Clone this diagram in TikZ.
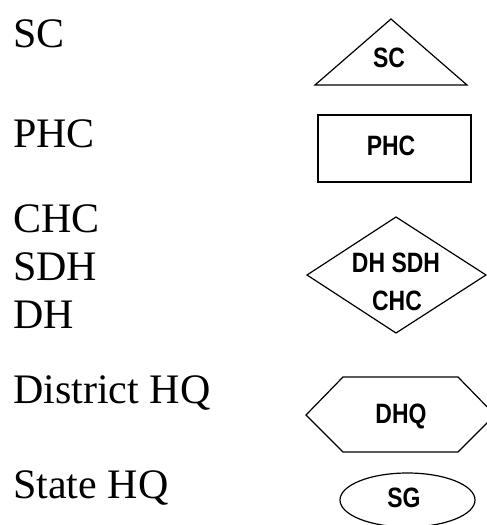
\documentclass[tikz,border=0pt]{standalone}
\usepackage{fontspec}
\setmainfont{Liberation Serif}
\newfontfamily\labfont[FakeStretch=0.82]{Liberation Sans}
\begin{document}
\begin{tikzpicture}[x=1pt,y=-1pt,
  lefttext/.style={anchor=base west,inner sep=0pt,font=\fontsize{42}{48}\selectfont},
  shapetext/.style={anchor=base,inner sep=0pt,font=\labfont\bfseries\fontsize{28}{30}\selectfont},
  outline/.style={draw=black,line width=1.2pt,line join=miter}]
\useasboundingbox (0,0) rectangle (487,525);
\clip (0,0) rectangle (487,525);
% left column
\node[lefttext] (tsc) at (13,47) {SC};
\node[lefttext] (tphc) at (13,147) {PHC};
\node[lefttext] (tchc) at (13,232) {CHC};
\node[lefttext] (tsdh) at (13,280) {SDH};
\node[lefttext] (tdh) at (13,328) {DH};
\node[lefttext] (tdhq) at (13,403) {District HQ};
\node[lefttext] (tsg) at (13,498) {State HQ};
% symbols
\draw[outline] (391,19) -- (467,85) -- (315,85) -- cycle;
\node[shapetext] (lsc) at (389,67) {SC};
\draw[outline] (318,115) rectangle (471,182);
\node[shapetext] (lphc) at (391,155) {PHC};
\draw[outline] (396,217) -- (486,275) -- (396,333) -- (307,275) -- cycle;
\node[shapetext] (ldh) at (396,272) {DH SDH};
\node[shapetext] (lchc) at (397,310) {CHC};
\draw[outline] (306,415) -- (343,377) -- (458,377) -- (495,415) -- (458,452) -- (343,452) -- cycle;
\node[shapetext] (ldhq) at (401,423) {DHQ};
\draw[outline] (407.5,500) ellipse [x radius=67.5, y radius=27];
\node[shapetext] (lsg) at (404,507) {SG};
\end{tikzpicture}
\end{document}
